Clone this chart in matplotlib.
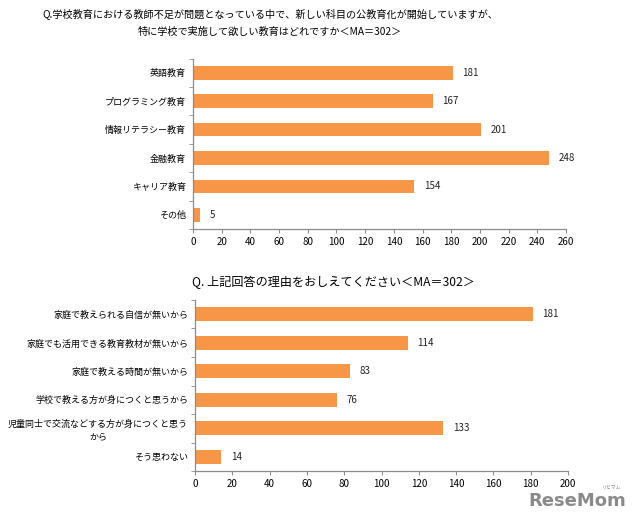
import matplotlib
matplotlib.use("Agg")
import matplotlib.pyplot as plt
import numpy as np

plt.rcParams['font.family'] = ['Noto Sans CJK JP', 'DejaVu Sans']

# データ
subjects = ['英語教育', 'プログラミング教育', '情報リテラシー教育', '金融教育', 'キャリア教育', 'その他']
subject_counts = [181, 167, 201, 248, 154, 5]

reasons = ['家庭で教えられる自信が無いから', '家庭でも活用できる教育教材が無いから', '家庭で教える時間が無いから',
           '学校で教える方が身につくと思うから', '児童同士で交流などする方が身につくと思う\nから', 'そう思わない']
reason_counts = [181, 114, 83, 76, 133, 14]

title1 = 'Q.学校教育における教師不足が問題となっている中で、新しい科目の公教育化が開始していますが、\n特に学校で実施して欲しい教育はどれですか＜MA＝302＞'
title2 = 'Q. 上記回答の理由をおしえてください＜MA＝302＞'

bar_color = '#F79646'
axis_color = '#8c8c8c'

fig = plt.figure(figsize=(6.4, 5.23), dpi=100)


def draw(ax, labels, values, xmax, step):
    y = np.arange(len(labels))
    ax.barh(y, values, height=0.48, color=bar_color)
    for yi, v in zip(y, values):
        ax.annotate(str(v), (v, yi), xytext=(7, 0), textcoords='offset points',
                    va='center', ha='left', fontsize=7, color='#222222')
    ax.set_xlim(0, xmax)
    ax.set_ylim(len(labels) - 0.5, -0.5)
    ax.set_xticks(np.arange(0, xmax + 1, step))
    ax.set_yticks(y)
    ax.set_yticklabels(labels, fontsize=6.5, multialignment='center', linespacing=1.35)
    ax.set_yticks(np.arange(-0.5, len(labels), 1), minor=True)
    ax.tick_params(axis='y', which='major', length=0, pad=5)
    ax.tick_params(axis='y', which='minor', length=3, color=axis_color)
    ax.tick_params(axis='x', length=3, color=axis_color, labelsize=7, pad=3)
    for s in ['top', 'right']:
        ax.spines[s].set_visible(False)
    for s in ['left', 'bottom']:
        ax.spines[s].set_color(axis_color)
        ax.spines[s].set_linewidth(0.9)


ax1 = fig.add_axes([0.3016, 0.5621, 0.5828, 0.3258])
draw(ax1, subjects, subject_counts, 260, 20)

ax2 = fig.add_axes([0.3047, 0.0994, 0.5828, 0.327])
draw(ax2, reasons, reason_counts, 200, 20)

fig.text(270 / 640, 1 - 23 / 523, title1, ha='center', va='center', fontsize=7.3, linespacing=1.95)
fig.text(333 / 640, 1 - 282 / 523, title2, ha='center', va='center', fontsize=8.7)

# ロゴ
fig.text(577 / 640, 1 - 501 / 523, 'ReseMom', ha='center', va='center', fontsize=13,
         fontweight='bold', color='#8a8a8a', family='DejaVu Sans')
fig.text(612 / 640, 1 - 487 / 523, 'リセマム', ha='center', va='center', fontsize=3.5, color='#8a8a8a')

fig.savefig('out.png', dpi=100, facecolor='white')
